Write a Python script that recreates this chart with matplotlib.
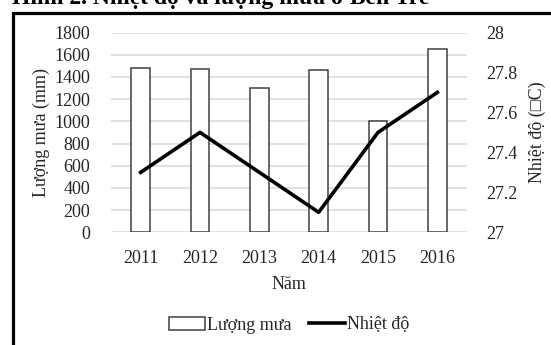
import matplotlib.pyplot as plt
import matplotlib.patches as mpatches
import numpy as np

years = ['2011', '2012', '2013', '2014', '2015', '2016']
rainfall = [1480, 1470, 1300, 1460, 1000, 1650]
temperature = [27.3, 27.5, 27.3, 27.1, 27.5, 27.7]

plt.rcParams['font.family'] = ['Liberation Serif', 'DejaVu Sans']
plt.rcParams['font.size'] = 13

W, H = 551, 345
fig = plt.figure(figsize=(W / 100, H / 100), dpi=100)

# plot area in pixels: left 111, right 467, top 32.5, bottom 232.3
ax = fig.add_axes([111 / W, 1 - 232.3 / H, (467 - 111) / W, (232.3 - 32.5) / H])
ax2 = ax.twinx()

x = np.arange(len(years))
ax.bar(x, rainfall, width=0.31, color='white', edgecolor='#404040', linewidth=1.1, zorder=3,
       label='Lượng mưa')
ax.set_ylim(0, 1800)
ax.set_yticks(np.arange(0, 1801, 200))
ax.set_xlim(-0.5, len(years) - 0.5)
ax.set_xticks(x)
ax.set_xticklabels(years)
ax.grid(axis='y', color='#d9d9d9', linewidth=1.1, zorder=0)
ax.set_axisbelow(True)
for s in ax.spines.values():
    s.set_visible(False)
ax.tick_params(length=0, pad=13, colors='#262626')
ax.tick_params(axis='y', pad=15)
ax.set_xlabel('Năm', labelpad=6, color='#262626')
ax.set_ylabel('Lượng mưa (mm)', labelpad=3, color='#262626')

ax2.plot(x, temperature, color='black', linewidth=2.6, zorder=4, label='Nhiệt độ')
ax2.set_ylim(27, 28)
ax2.set_yticks([27, 27.2, 27.4, 27.6, 27.8, 28])
ax2.set_yticklabels(['27', '27.2', '27.4', '27.6', '27.8', '28'])
for s in ax2.spines.values():
    s.set_visible(False)
ax2.tick_params(length=0, pad=14, colors='#262626')
ax2.set_ylabel('Nhiệt độ (□C)', labelpad=8, color='#262626')

handles = [mpatches.Patch(facecolor='white', edgecolor='#404040', linewidth=1.1),
           plt.Line2D([], [], color='black', linewidth=2.6)]
fig.legend(handles, ['Lượng mưa', 'Nhiệt độ'], loc='center', bbox_to_anchor=(289 / W, 1 - 325 / H),
           ncol=2, frameon=False, handlelength=2.0, handletextpad=0.1, columnspacing=1.0,
           labelcolor='#262626')

# frame around the chart
fig.add_artist(mpatches.Rectangle((13 / W, -0.1), 1.2, 1 - 13.5 / H + 0.1, transform=fig.transFigure,
                                  fill=False, edgecolor='black', linewidth=2.3))

# title, cut off at the top as in the source
fig.text(12 / W, 1 - 4 / H, 'Hình 2. Nhiệt độ và lượng mưa ở Bến Tre', fontsize=17,
         fontweight='bold', va='baseline', ha='left')

fig.savefig('out.png', dpi=100)
